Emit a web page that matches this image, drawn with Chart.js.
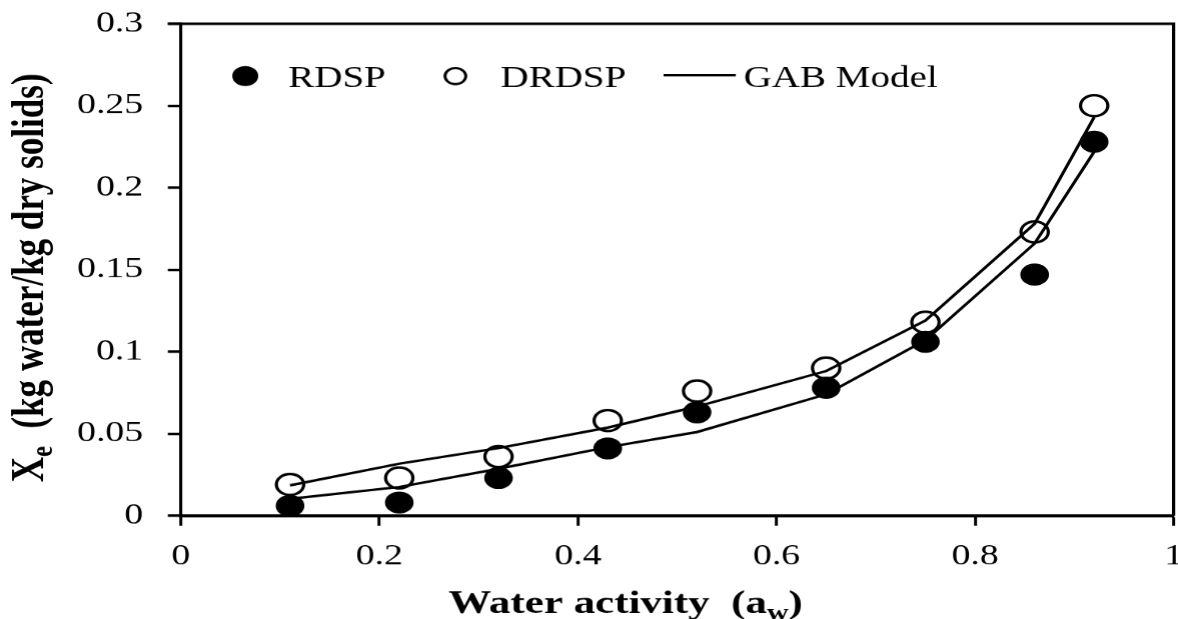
<!DOCTYPE html>
<html>
<head>
<meta charset="utf-8">
<script src="https://cdn.jsdelivr.net/npm/chart.js@4.4.1/dist/chart.umd.min.js"></script>
<style>
  html, body { margin: 0; padding: 0; background: #fff; }
  #wrap { width: 1178px; height: 619px; overflow: hidden; }
  #c { display: block; width: 1189.5px; height: 619px; }
</style>
</head>
<body>
<div id="wrap"><canvas id="c" width="915" height="619" style="width:1189.5px;height:619px;"></canvas></div>
<script>
// ---- data ----
const waterActivity = [0.11, 0.22, 0.32, 0.43, 0.52, 0.65, 0.75, 0.86, 0.92];
const rdspValues    = [0.006, 0.008, 0.023, 0.041, 0.063, 0.078, 0.106, 0.147, 0.228];
const drdspValues   = [0.019, 0.023, 0.036, 0.058, 0.076, 0.090, 0.118, 0.173, 0.250];
const gabRdspValues = [0.0103, 0.0175, 0.0286, 0.0418, 0.051, 0.074, 0.107, 0.166, 0.222];
const gabDrdspValues= [0.0185, 0.0317, 0.0412, 0.0537, 0.0666, 0.0882, 0.119, 0.178, 0.243];
const xTickValues = [0, 0.2, 0.4, 0.6, 0.8, 1];
const xTickLabels = ['0', '0.2', '0.4', '0.6', '0.8', '1'];
const yTickValues = [0, 0.05, 0.1, 0.15, 0.2, 0.25, 0.3];
const yTickLabels = ['0', '0.05', '0.1', '0.15', '0.2', '0.25', '0.3'];
const legendLabels = ['RDSP', 'DRDSP', 'GAB Model'];
const xTitleMain = 'Water activity  (a';
const xTitleSub = 'w';
const xTitleEnd = ')';
const yTitleMain = 'X';
const yTitleSub = 'e';
const yTitleEnd = '  (kg water/kg dry solids)';

const toXY = (xs, ys) => xs.map((x, i) => ({ x: x, y: ys[i] }));

const SERIF = '"Liberation Serif", "Times New Roman", serif';

const decorPlugin = {
  id: 'decor',
  afterDraw(chart) {
    const ctx = chart.ctx;
    const a = chart.chartArea;
    ctx.save();
    // top and right frame lines
    ctx.strokeStyle = '#000';
    ctx.lineWidth = 2.5;
    ctx.beginPath();
    ctx.moveTo(a.left - 10, a.top);
    ctx.lineTo(a.right, a.top);
    ctx.lineTo(a.right, a.bottom);
    ctx.stroke();

    // legend
    const ly = 76;
    ctx.fillStyle = '#000';
    ctx.beginPath();
    ctx.arc(188.5, ly, 10, 0, Math.PI * 2);
    ctx.fill();
    ctx.beginPath();
    ctx.lineWidth = 2.2;
    ctx.arc(350, ly, 8, 0, Math.PI * 2);
    ctx.stroke();
    ctx.lineWidth = 2.5;
    ctx.beginPath();
    ctx.moveTo(510, 75);
    ctx.lineTo(565.5, 75);
    ctx.stroke();
    ctx.font = '30px ' + SERIF;
    ctx.textBaseline = 'alphabetic';
    ctx.textAlign = 'left';
    ctx.fillText(legendLabels[0], 221.5, 87);
    ctx.fillText(legendLabels[1], 384.6, 87);
    ctx.fillText(legendLabels[2], 571.5, 87);

    // x axis title
    const fx = 'bold 33px ' + SERIF;
    const fs = 'bold 23px ' + SERIF;
    ctx.font = fx; const w1 = ctx.measureText(xTitleMain).width;
    ctx.font = fs; const w2 = ctx.measureText(xTitleSub).width;
    ctx.font = fx; const w3 = ctx.measureText(xTitleEnd).width;
    let x0 = 480.8 - (w1 + w2 + w3) / 2;
    const by = 612;
    ctx.font = fx; ctx.fillText(xTitleMain, x0, by);
    ctx.font = fs; ctx.fillText(xTitleSub, x0 + w1, by + 7);
    ctx.font = fx; ctx.fillText(xTitleEnd, x0 + w1 + w2, by);

    // y axis title (rotated)
    const gy = 'bold 35px ' + SERIF;
    const gs = 'bold 24px ' + SERIF;
    ctx.font = gy; const v1 = ctx.measureText(yTitleMain).width;
    ctx.font = gs; const v2 = ctx.measureText(yTitleSub).width;
    ctx.font = gy; const v3 = ctx.measureText(yTitleEnd).width;
    ctx.translate(33, 277.5);
    ctx.rotate(-Math.PI / 2);
    let s0 = -(v1 + v2 + v3) / 2;
    ctx.font = gy; ctx.fillText(yTitleMain, s0, 0);
    ctx.font = gs; ctx.fillText(yTitleSub, s0 + v1, 7);
    ctx.font = gy; ctx.fillText(yTitleEnd, s0 + v1 + v2, 0);
    ctx.restore();
  }
};

Chart.defaults.color = '#000';
Chart.defaults.font.family = SERIF;

new Chart(document.getElementById('c'), {
  type: 'scatter',
  data: {
    datasets: [
      { label: 'GAB Model (DRDSP)', data: toXY(waterActivity, gabDrdspValues), showLine: true,
        borderColor: '#000', borderWidth: 2.5, pointRadius: 0, fill: false, tension: 0 },
      { label: 'GAB Model (RDSP)', data: toXY(waterActivity, gabRdspValues), showLine: true,
        borderColor: '#000', borderWidth: 2.5, pointRadius: 0, fill: false, tension: 0 },
      { label: legendLabels[1], data: toXY(waterActivity, drdspValues), showLine: false,
        pointStyle: 'circle', pointRadius: 10.5, backgroundColor: 'rgba(255,255,255,0)',
        borderColor: '#000', borderWidth: 2.5 },
      { label: legendLabels[0], data: toXY(waterActivity, rdspValues), showLine: false,
        pointStyle: 'circle', pointRadius: 11, backgroundColor: '#000',
        borderColor: '#000', borderWidth: 0 }
    ]
  },
  options: {
    responsive: false,
    devicePixelRatio: 1.3,
    animation: false,
    events: [],
    layout: { padding: { left: 0, right: 5.2, top: 23.7, bottom: 0 } },
    plugins: { legend: { display: false }, tooltip: { enabled: false }, title: { display: false } },
    scales: {
      x: {
        type: 'linear', position: 'bottom', min: 0, max: 1,
        afterBuildTicks: (s) => { s.ticks = xTickValues.map(v => ({ value: v })); },
        afterFit: (s) => { s.height = 619 - 515.2; s.paddingLeft = 0; s.paddingRight = 0; },
        ticks: { callback: (v, i) => xTickLabels[i], font: { size: 29, family: SERIF }, color: '#000',
                 padding: 14, maxRotation: 0, autoSkip: false },
        grid: { display: true, drawOnChartArea: false, drawTicks: true, tickLength: 10,
                tickWidth: 2.3, tickColor: '#000', color: '#000' },
        border: { display: true, color: '#000', width: 3 },
        title: { display: false }
      },
      y: {
        type: 'linear', position: 'left', min: 0, max: 0.3,
        afterBuildTicks: (s) => { s.ticks = yTickValues.map(v => ({ value: v })); },
        afterFit: (s) => { s.width = 139; s.paddingTop = 0; s.paddingBottom = 0; },
        ticks: { callback: (v, i) => yTickLabels[i], font: { size: 29, family: SERIF }, color: '#000',
                 padding: 19, autoSkip: false },
        grid: { display: true, drawOnChartArea: false, drawTicks: true, tickLength: 10,
                tickWidth: 2.5, tickColor: '#000', color: '#000' },
        border: { display: true, color: '#000', width: 2.4 },
        title: { display: false }
      }
    }
  },
  plugins: [decorPlugin]
});
</script>
</body>
</html>
